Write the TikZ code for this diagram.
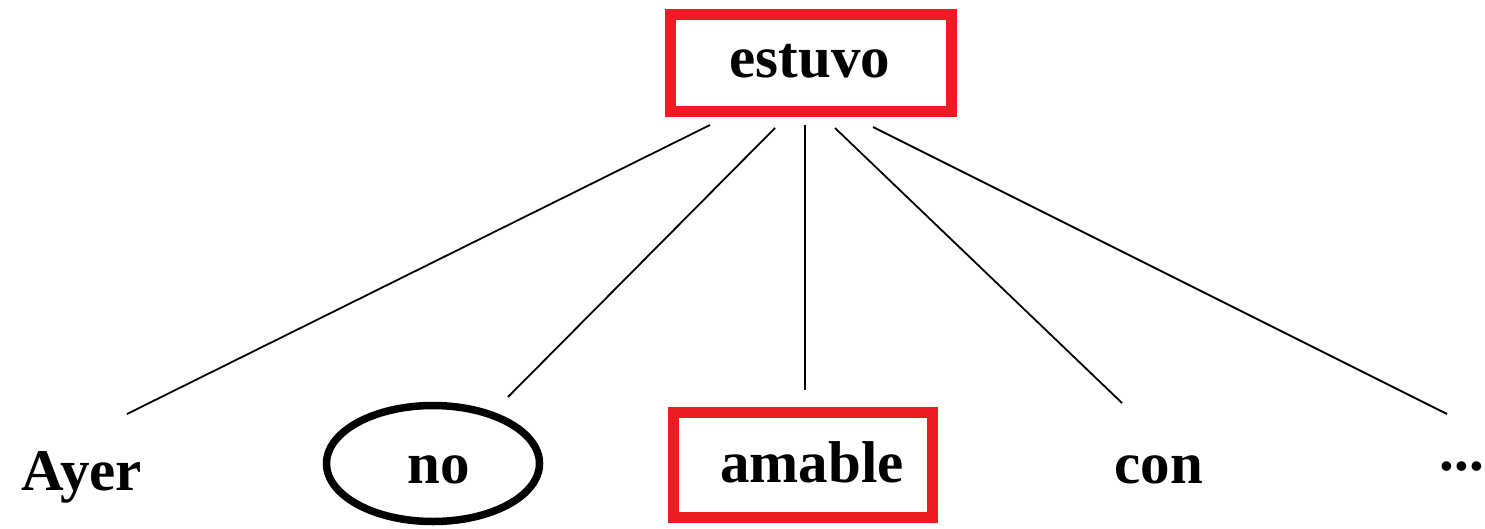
\documentclass[tikz,border=0pt]{standalone}
\usepackage{fontspec}
\setmainfont{Liberation Serif}
\usetikzlibrary{shapes.geometric}
\definecolor{boxred}{HTML}{ED1C24}
\begin{document}
\begin{tikzpicture}[x=1pt,y=-1pt,
  word/.style={font=\fontsize{59}{66}\selectfont\bfseries, inner sep=0pt},
  redbox/.style={draw=boxred, line width=11pt, rectangle, inner sep=0pt},
  ring/.style={draw=black, line width=7.5pt, ellipse, inner sep=0pt},
  branch/.style={draw=black, line width=1.8pt}]
  \useasboundingbox (0,0) rectangle (1485,528);

  % head word
  \node[redbox, minimum width=281pt, minimum height=97pt] (head) at (810.5,62.5) {};
  \node[word] (estuvo) at (810,61) {estuvo};

  % dependents
  \node[word, anchor=base] (ayer) at (82,490) {Ayer};
  \node[ring, minimum width=213pt, minimum height=116pt] (noring) at (433,463.5) {};
  \node[word, anchor=base] (no) at (439,483) {no};
  \node[redbox, minimum width=259pt, minimum height=105pt] (amabox) at (802.5,464.5) {};
  \node[word] (amable) at (812,462) {amable};
  \node[word, anchor=base] (con) at (1159,483) {con};
  \node[word, anchor=base] (dots) at (1462,470) {...};

  % branch end points
  \coordinate (h1) at (710,125);
  \coordinate (h2) at (775,128);
  \coordinate (h3) at (805,125);
  \coordinate (h4) at (835,128);
  \coordinate (h5) at (873,127);
  \coordinate (d1) at (127,414);
  \coordinate (d2) at (508,397);
  \coordinate (d3) at (805,390);
  \coordinate (d4) at (1122,403);
  \coordinate (d5) at (1447,414);

  \draw[branch] (h1) -- (d1);
  \draw[branch] (h2) -- (d2);
  \draw[branch] (h3) -- (d3);
  \draw[branch] (h4) -- (d4);
  \draw[branch] (h5) -- (d5);
\end{tikzpicture}
\end{document}
